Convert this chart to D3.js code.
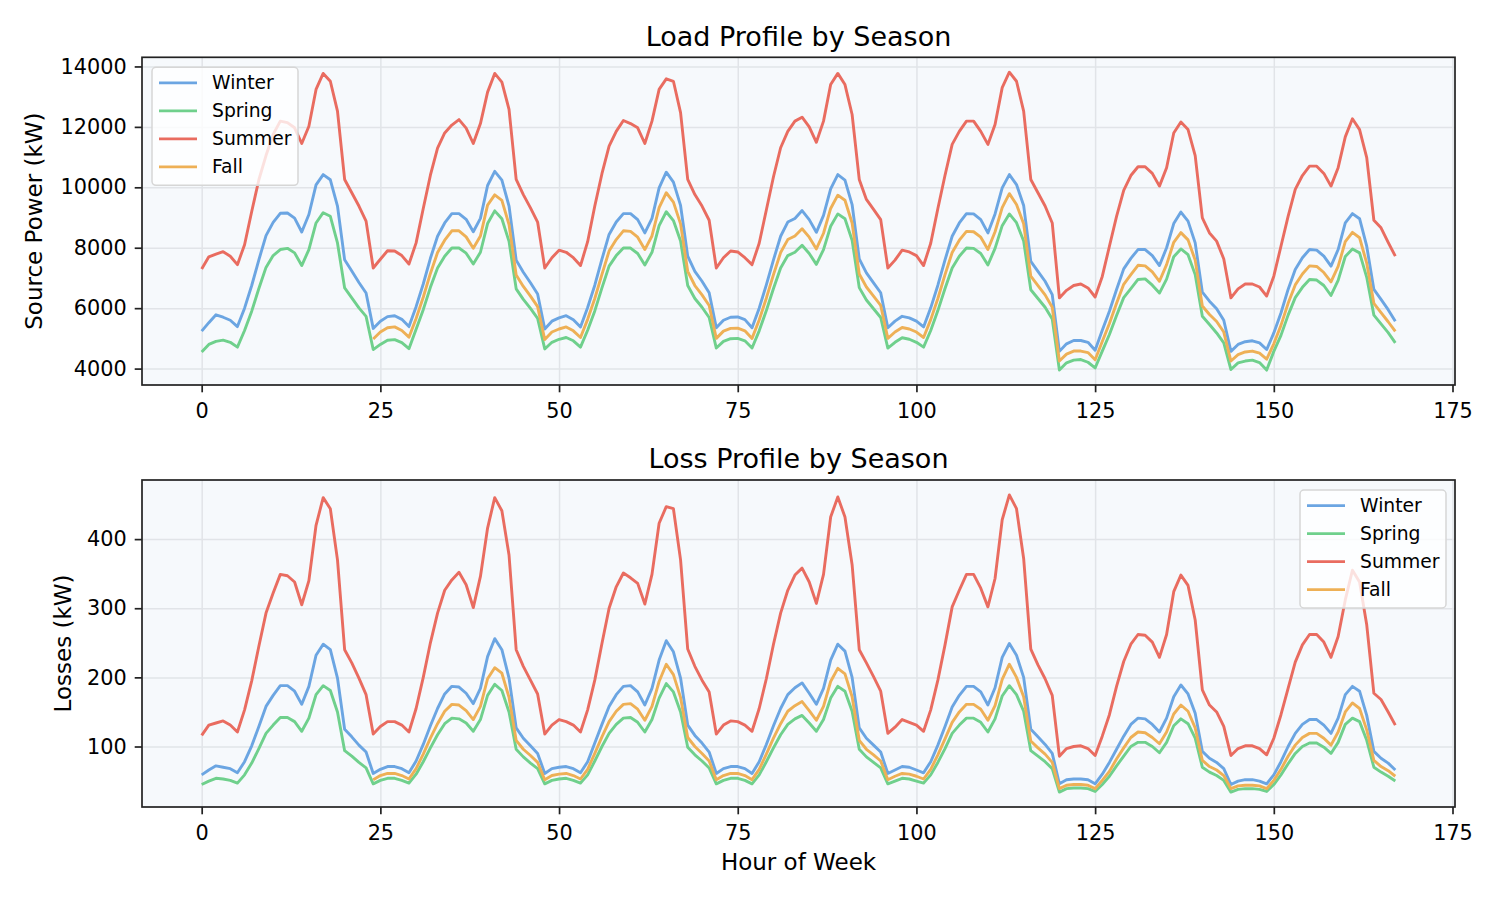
<!DOCTYPE html>
<html>
<head>
<meta charset="utf-8">
<script src="https://cdn.jsdelivr.net/npm/d3@7"></script>
<style>
  body { margin: 0; background: #fff; }
  svg { font-family: "DejaVu Sans", sans-serif; }
</style>
</head>
<body>
<div id="chart"></div>
<script>
// hour index 0..167 (one week)
const hours = d3.range(168);
const seasons = ['Winter', 'Spring', 'Summer', 'Fall'];
const colors = ['#6ba5e2', '#6fd08c', '#e96c60', '#eeb056'];

const xTicks = [0, 25, 50, 75, 100, 125, 150, 175];
const loadTicks = [4000, 6000, 8000, 10000, 12000, 14000];
const lossTicks = [100, 200, 300, 400];

// source power, kW
const winterLoad = [
  5240, 5520, 5780, 5700, 5600, 5390, 6000, 6750, 7600, 8400, 8840, 9140, 9150, 8980, 8520, 9100, 10080, 10420, 10250, 9380, 7600, 7230, 6850, 6500,
  5330, 5570, 5720, 5750, 5630, 5390, 6050, 6800, 7650, 8380, 8820, 9130, 9130, 8940, 8530, 8970, 10060, 10530, 10240, 9380, 7590, 7190, 6840, 6470,
  5310, 5570, 5680, 5750, 5620, 5380, 6020, 6760, 7620, 8440, 8850, 9130, 9130, 8930, 8490, 8970, 9980, 10500, 10170, 9400, 7720, 7220, 6890, 6510,
  5350, 5600, 5700, 5710, 5620, 5350, 6000, 6770, 7600, 8380, 8850, 8970, 9230, 8930, 8510, 9070, 9950, 10420, 10240, 9430, 7630, 7170, 6840, 6510,
  5350, 5570, 5730, 5680, 5570, 5380, 6010, 6760, 7600, 8380, 8820, 9130, 9120, 8930, 8490, 9120, 9980, 10420, 10090, 9400, 7550, 7220, 6890, 6450,
  4570, 4820, 4930, 4930, 4870, 4610, 5270, 5900, 6620, 7300, 7650, 7940, 7940, 7740, 7410, 8000, 8800, 9180, 8880, 8160, 6530, 6230, 5980, 5600,
  4570, 4800, 4890, 4920, 4850, 4630, 5180, 5840, 6620, 7280, 7670, 7940, 7920, 7720, 7390, 7940, 8820, 9130, 8960, 8050, 6620, 6290, 5950, 5570
];
const springLoad = [
  4550, 4800, 4900, 4940, 4870, 4710, 5260, 5900, 6650, 7350, 7740, 7940, 7980, 7830, 7410, 7940, 8820, 9160, 9040, 8160, 6670, 6340, 6010, 5730,
  4630, 4800, 4940, 4960, 4860, 4660, 5300, 5950, 6690, 7330, 7720, 7990, 7990, 7820, 7460, 7850, 8800, 9220, 8960, 8210, 6640, 6290, 5990, 5660,
  4650, 4870, 4970, 5030, 4920, 4710, 5270, 5910, 6670, 7390, 7740, 7990, 7990, 7810, 7430, 7850, 8730, 9190, 8900, 8220, 6750, 6320, 6030, 5690,
  4680, 4900, 4990, 5000, 4920, 4680, 5250, 5920, 6650, 7330, 7740, 7850, 8080, 7810, 7450, 7940, 8710, 9120, 8960, 8250, 6680, 6270, 5980, 5690,
  4680, 4870, 5020, 4970, 4870, 4710, 5260, 5920, 6650, 7330, 7720, 7990, 7980, 7810, 7430, 7980, 8730, 9120, 8830, 8220, 6610, 6320, 6030, 5640,
  3950, 4190, 4280, 4300, 4210, 4020, 4580, 5130, 5760, 6350, 6650, 6950, 6970, 6760, 6500, 6960, 7700, 7960, 7770, 7110, 5730, 5460, 5180, 4850,
  3970, 4190, 4250, 4280, 4200, 3950, 4570, 5100, 5770, 6350, 6690, 6950, 6930, 6750, 6420, 6920, 7710, 7960, 7830, 7020, 5770, 5480, 5190, 4850
];
const summerLoad = [
  7300, 7700, 7790, 7870, 7720, 7440, 8100, 9200, 10250, 11050, 11750, 12190, 12140, 11970, 11450, 12020, 13240, 13770, 13510, 12520, 10260, 9820, 9380, 8880,
  7330, 7620, 7900, 7890, 7740, 7460, 8160, 9300, 10400, 11300, 11800, 12060, 12240, 11960, 11450, 12110, 13150, 13770, 13480, 12580, 10260, 9760, 9320, 8850,
  7330, 7670, 7920, 7850, 7670, 7410, 8200, 9380, 10450, 11360, 11850, 12210, 12110, 11970, 11450, 12190, 13240, 13590, 13510, 12470, 10260, 9760, 9380, 8910,
  7330, 7670, 7890, 7860, 7670, 7440, 8150, 9250, 10350, 11310, 11850, 12190, 12320, 12000, 11490, 12190, 13400, 13770, 13400, 12410, 10260, 9600, 9270, 8930,
  7330, 7590, 7920, 7860, 7740, 7410, 8150, 9300, 10400, 11420, 11850, 12190, 12190, 11850, 11420, 12080, 13300, 13810, 13510, 12520, 10260, 9820, 9380, 8820,
  6340, 6590, 6750, 6800, 6670, 6370, 7050, 8050, 9040, 9900, 10390, 10680, 10680, 10460, 10040, 10650, 11800, 12160, 11910, 11050, 8990, 8490, 8220, 7630,
  6340, 6640, 6800, 6800, 6700, 6400, 7060, 8050, 9040, 9930, 10390, 10700, 10700, 10460, 10040, 10650, 11670, 12270, 11910, 10980, 8910, 8660, 8180, 7720
];
// no fall data for the first day
const fallLoad = [
  null, null, null, null, null, null, null, null, null, null, null, null, null, null, null, null, null, null, null, null, null, null, null, null,
  4980, 5210, 5350, 5380, 5260, 5040, 5660, 6360, 7150, 7840, 8250, 8560, 8560, 8360, 7980, 8390, 9410, 9750, 9570, 8770, 7100, 6720, 6400, 6050,
  4960, 5210, 5310, 5380, 5250, 5030, 5630, 6320, 7120, 7890, 8270, 8560, 8540, 8350, 7940, 8390, 9330, 9820, 9510, 8790, 7220, 6750, 6440, 6090,
  5000, 5240, 5330, 5340, 5250, 5000, 5610, 6330, 7110, 7840, 8270, 8390, 8630, 8350, 7960, 8480, 9300, 9740, 9570, 8820, 7130, 6700, 6400, 6090,
  5000, 5210, 5360, 5310, 5210, 5030, 5620, 6320, 7110, 7840, 8250, 8540, 8530, 8350, 7940, 8530, 9330, 9790, 9430, 8790, 7060, 6750, 6440, 6030,
  4250, 4480, 4580, 4580, 4530, 4290, 4900, 5490, 6160, 6790, 7110, 7420, 7400, 7200, 6890, 7440, 8180, 8500, 8260, 7590, 6070, 5790, 5560, 5210,
  4250, 4460, 4550, 4580, 4510, 4310, 4820, 5430, 6160, 6770, 7130, 7400, 7380, 7180, 6870, 7380, 8200, 8510, 8330, 7490, 6160, 5850, 5550, 5230
];

// losses, kW
const winterLoss = [
  59, 66, 72, 70, 68, 62, 78, 101, 129, 158, 174, 188, 188, 180, 161, 187, 232, 248, 240, 199, 125, 114, 102, 92,
  61, 67, 71, 71, 68, 62, 79, 103, 130, 155, 176, 187, 186, 177, 162, 184, 230, 256, 240, 199, 127, 112, 101, 90,
  61, 68, 70, 71, 68, 62, 78, 105, 132, 158, 175, 187, 188, 179, 160, 184, 225, 253, 237, 199, 131, 116, 105, 92,
  61, 68, 71, 71, 68, 61, 78, 103, 130, 155, 175, 185, 192, 177, 161, 184, 225, 248, 238, 200, 127, 112, 102, 92,
  61, 66, 71, 70, 66, 62, 78, 102, 129, 157, 174, 187, 187, 179, 160, 185, 229, 249, 232, 200, 125, 114, 103, 90,
  46, 52, 53, 53, 52, 46, 60, 77, 96, 115, 132, 141, 140, 132, 121, 141, 172, 189, 176, 148, 93, 83, 77, 68,
  45, 50, 52, 52, 50, 46, 59, 78, 100, 119, 132, 139, 139, 131, 119, 141, 175, 187, 180, 145, 93, 83, 76, 66
];
const springLoss = [
  45, 50, 54, 53, 51, 47, 59, 76, 97, 119, 131, 142, 142, 136, 122, 141, 175, 188, 181, 150, 94, 86, 77, 69,
  46, 51, 54, 54, 51, 47, 60, 78, 98, 117, 133, 141, 140, 134, 122, 139, 174, 190, 181, 150, 96, 85, 76, 68,
  46, 51, 53, 54, 51, 47, 59, 79, 100, 119, 132, 141, 142, 135, 121, 139, 170, 191, 179, 150, 99, 88, 79, 69,
  46, 51, 54, 54, 51, 46, 59, 78, 98, 117, 132, 140, 145, 134, 122, 139, 170, 187, 180, 151, 96, 85, 77, 69,
  46, 50, 54, 53, 50, 47, 59, 77, 97, 119, 131, 141, 141, 135, 121, 140, 173, 188, 175, 151, 94, 86, 78, 68,
  34, 39, 40, 40, 39, 35, 45, 57, 72, 86, 100, 106, 106, 100, 91, 106, 130, 140, 133, 112, 70, 63, 58, 51,
  34, 38, 39, 39, 38, 35, 45, 59, 75, 90, 100, 105, 105, 99, 90, 106, 132, 141, 136, 109, 70, 63, 57, 50
];
const summerLoss = [
  116, 131, 134, 137, 131, 121, 153, 195, 245, 293, 322, 349, 347, 338, 305, 340, 420, 460, 444, 370, 240, 221, 199, 175,
  118, 129, 136, 136, 131, 121, 155, 200, 250, 293, 326, 341, 352, 334, 301, 346, 416, 460, 441, 377, 240, 216, 196, 176,
  118, 131, 139, 136, 131, 121, 153, 196, 249, 300, 331, 351, 344, 336, 306, 349, 423, 447, 444, 370, 241, 216, 196, 179,
  118, 131, 137, 136, 131, 122, 155, 198, 248, 293, 326, 348, 358, 338, 307, 349, 432, 461, 432, 363, 240, 221, 201, 180,
  119, 128, 139, 135, 131, 122, 153, 196, 247, 302, 326, 349, 349, 329, 302, 343, 428, 464, 444, 372, 241, 218, 198, 174,
  86, 97, 100, 101, 97, 87, 115, 146, 187, 223, 248, 262, 261, 251, 229, 262, 324, 348, 333, 283, 182, 160, 150, 129,
  87, 97, 101, 101, 97, 88, 112, 146, 184, 222, 247, 262, 262, 251, 229, 259, 312, 355, 338, 276, 177, 168, 150, 131
];
const fallLoss = [
  null, null, null, null, null, null, null, null, null, null, null, null, null, null, null, null, null, null, null, null, null, null, null, null,
  52, 58, 61, 61, 58, 53, 68, 89, 112, 133, 151, 161, 160, 152, 139, 158, 198, 214, 206, 171, 109, 96, 87, 77,
  52, 58, 60, 61, 58, 53, 67, 90, 114, 136, 151, 161, 162, 154, 138, 158, 194, 219, 204, 171, 113, 100, 90, 79,
  52, 58, 61, 61, 58, 52, 67, 89, 112, 133, 151, 159, 165, 152, 138, 158, 194, 213, 205, 172, 109, 96, 88, 79,
  52, 57, 61, 60, 57, 53, 67, 88, 111, 135, 150, 161, 161, 154, 138, 159, 197, 219, 200, 172, 108, 98, 89, 77,
  39, 44, 45, 45, 44, 39, 51, 64, 82, 98, 113, 121, 120, 113, 104, 121, 147, 160, 151, 127, 80, 71, 66, 58,
  39, 43, 44, 44, 43, 39, 51, 67, 86, 102, 113, 119, 119, 112, 102, 121, 150, 163, 155, 124, 80, 71, 65, 57
];

const W = 1500, H = 900;
const left = 142, right = 1455;
const tickFont = 20.8;

const svg = d3.select('#chart').append('svg')
  .attr('width', W).attr('height', H);

const x = d3.scaleLinear()
  .domain([-8.35, 175.35])
  .range([left, right]);

// matplotlib-like 5% margin around the data
function padded(series) {
  const all = series.flat().filter(v => v != null);
  const [lo, hi] = d3.extent(all);
  const m = (hi - lo) * 0.05;
  return [lo - m, hi + m];
}

const panels = [
  { title: 'Load Profile by Season', ylabel: 'Source Power (kW)', series: [winterLoad, springLoad, summerLoad, fallLoad],
    ticks: loadTicks, top: 57.3, bottom: 385, legend: 'left', labelX: 42, xlabel: null },
  { title: 'Loss Profile by Season', ylabel: 'Losses (kW)', series: [winterLoss, springLoss, summerLoss, fallLoss],
    ticks: lossTicks, top: 480, bottom: 807, legend: 'right', labelX: 71, xlabel: 'Hour of Week' }
];

panels.forEach(p => drawPanel(p));

function drawPanel(p) {
  const y = d3.scaleLinear().domain(padded(p.series)).range([p.bottom, p.top]);
  const g = svg.append('g');

  g.append('rect')
    .attr('x', left).attr('y', p.top)
    .attr('width', right - left).attr('height', p.bottom - p.top)
    .attr('fill', '#f6f9fc');

  // grid
  const gx = g.append('g')
    .attr('transform', `translate(0,${p.bottom})`)
    .call(d3.axisBottom(x).tickValues(xTicks.filter(t => t <= 175)).tickSize(-(p.bottom - p.top)).tickFormat(''));
  const gy = g.append('g')
    .attr('transform', `translate(${left},0)`)
    .call(d3.axisLeft(y).tickValues(p.ticks).tickSize(-(right - left)).tickFormat(''));
  [gx, gy].forEach(a => {
    a.select('.domain').remove();
    a.selectAll('line').attr('stroke', '#e1e4e8').attr('stroke-width', 1.5);
  });

  const line = d3.line()
    .defined(d => d[1] != null)
    .x(d => x(d[0]))
    .y(d => y(d[1]));

  p.series.forEach((s, i) => {
    g.append('path')
      .datum(hours.map(h => [h, s[h]]))
      .attr('fill', 'none')
      .attr('stroke', colors[i])
      .attr('stroke-width', 2.9)
      .attr('stroke-linejoin', 'round')
      .attr('d', line);
  });

  // frame
  g.append('rect')
    .attr('x', left).attr('y', p.top)
    .attr('width', right - left).attr('height', p.bottom - p.top)
    .attr('fill', 'none').attr('stroke', '#222').attr('stroke-width', 1.7);

  // axes
  const ax = g.append('g')
    .attr('transform', `translate(0,${p.bottom})`)
    .call(d3.axisBottom(x).tickValues(xTicks).tickSize(7.3).tickPadding(10.5).tickFormat(d3.format('d')));
  const ay = g.append('g')
    .attr('transform', `translate(${left},0)`)
    .call(d3.axisLeft(y).tickValues(p.ticks).tickSize(7.3).tickPadding(8).tickFormat(d3.format('d')));
  [ax, ay].forEach(a => {
    a.select('.domain').remove();
    a.selectAll('line').attr('stroke', '#222').attr('stroke-width', 1.7);
    a.selectAll('text')
      .attr('fill', '#000')
      .style('font-size', tickFont + 'px')
      .style('font-family', '"DejaVu Sans", sans-serif');
  });

  g.append('text')
    .attr('x', (left + right) / 2).attr('y', p.top - 11.7)
    .attr('text-anchor', 'middle')
    .style('font-size', '27px')
    .text(p.title);

  g.append('text')
    .attr('transform', `translate(${p.labelX},${(p.top + p.bottom) / 2}) rotate(-90)`)
    .attr('text-anchor', 'middle')
    .style('font-size', '23px')
    .text(p.ylabel);

  if (p.xlabel) {
    g.append('text')
      .attr('x', (left + right) / 2).attr('y', 870)
      .attr('text-anchor', 'middle')
      .style('font-size', '23px')
      .text(p.xlabel);
  }

  drawLegend(g, p);
}

function drawLegend(g, p) {
  const bw = 146, bh = 118;
  const bx = p.legend === 'left' ? left + 10 : right - 9 - bw;
  const by = p.top + 10;
  const lg = g.append('g').attr('transform', `translate(${bx},${by})`);
  lg.append('rect')
    .attr('width', bw).attr('height', bh).attr('rx', 4)
    .attr('fill', '#fff').attr('fill-opacity', 0.8)
    .attr('stroke', '#d6d6d6').attr('stroke-width', 1.5);
  seasons.forEach((s, i) => {
    const cy = 15.6 + i * 28;
    lg.append('line')
      .attr('x1', 7).attr('x2', 45).attr('y1', cy).attr('y2', cy)
      .attr('stroke', colors[i]).attr('stroke-width', 2.9);
    lg.append('text')
      .attr('x', 60).attr('y', cy).attr('dy', '0.35em')
      .style('font-size', '18.75px')
      .text(s);
  });
}
</script>
</body>
</html>
